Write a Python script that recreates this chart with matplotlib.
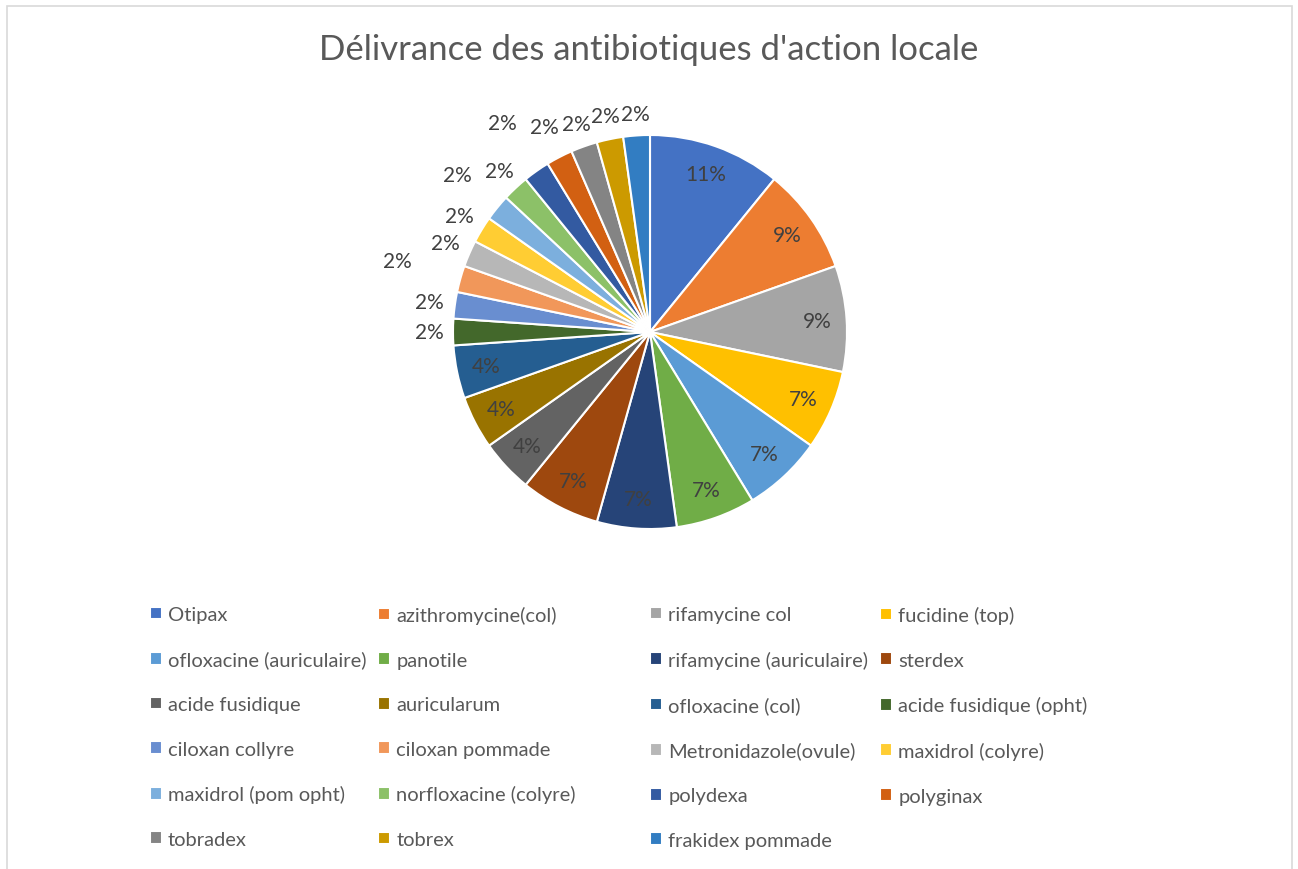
import matplotlib
matplotlib.use('Agg')
from matplotlib import pyplot as plt
from matplotlib.patches import Rectangle
import numpy as np

# data
names = ['Otipax', 'azithromycine(col)', 'rifamycine col', 'fucidine (top)',
         'ofloxacine (auriculaire)', 'panotile', 'rifamycine (auriculaire)', 'sterdex',
         'acide fusidique', 'auricularum', 'ofloxacine (col)', 'acide fusidique (opht)',
         'ciloxan collyre', 'ciloxan pommade', 'Metronidazole(ovule)', 'maxidrol (colyre)',
         'maxidrol (pom opht)', 'norfloxacine (colyre)', 'polydexa', 'polyginax',
         'tobradex', 'tobrex', 'frakidex pommade']
counts = [5, 4, 4, 3, 3, 3, 3, 3, 2, 2, 2, 1, 1, 1, 1, 1, 1, 1, 1, 1, 1, 1, 1]

colors = ['#4472C4', '#ED7D31', '#A5A5A5', '#FFC000', '#5B9BD5', '#70AD47',
          '#264478', '#9E480E', '#636363', '#997300', '#255E91', '#43682B',
          '#698ED0', '#F1975A', '#B7B7B7', '#FFCD33', '#7CAFDD', '#8CC168',
          '#335AA1', '#D26012', '#848484', '#CC9A00', '#327DC2']

# label distance (fraction of radius) for the small slices, Excel "best fit"
outer_dist = [1.12, 1.13, 1.33, 1.13, 1.13, 1.26, 1.12, 1.30, 1.17, 1.12, 1.12, 1.11]

W, H = 1298, 870
fig = plt.figure(figsize=(W / 100, H / 100), dpi=100)
fig.patch.set_facecolor('white')

# chart border
fig.add_artist(Rectangle((6.5 / W, -0.01), (1291.5 - 6.5) / W, 1.01 - 6.5 / H,
                         transform=fig.transFigure, fill=False,
                         edgecolor='#d9d9d9', lw=1.2))

cx, cy, r = 650, 333, 197
ax = fig.add_axes([(cx - r) / W, (H - cy - r) / H, 2 * r / W, 2 * r / H])

wedges, texts = ax.pie(counts, colors=colors, startangle=90, counterclock=False,
                       radius=1, wedgeprops=dict(edgecolor='white', linewidth=1.5))
ax.set_xlim(-1, 1)
ax.set_ylim(-1, 1)
ax.axis('off')

total = sum(counts)
k = 0
for w, c in zip(wedges, counts):
    ang = np.deg2rad((w.theta1 + w.theta2) / 2)
    if c >= 2:
        d = 0.85
    else:
        d = outer_dist[k]
        k += 1
    ax.text(d * np.cos(ang), d * np.sin(ang), '%d%%' % round(100 * c / total),
            ha='center', va='center', fontsize=15, color='#404040', family='Lato')

fig.text(0.5, 1 - 50 / H, "Délivrance des antibiotiques d'action locale",
         ha='center', va='center', fontsize=25, color='#595959', family='Lato')

# legend: Excel fills row by row, one legend per column to get its column widths
ncol = 4
col_x = [150, 378, 650, 880]
for cc in range(ncol):
    idx = list(range(cc, len(names), ncol))
    fig.legend([wedges[i] for i in idx], [names[i] for i in idx],
               loc='upper left', bbox_to_anchor=(col_x[cc] / W, 1 - 607 / H),
               frameon=False, labelcolor='#595959', prop={'family': 'Lato', 'size': 14.5},
               handlelength=0.6, handleheight=0.6, handletextpad=0.3,
               labelspacing=1.37, borderpad=0, borderaxespad=0)

fig.savefig('out.png', dpi=100)
